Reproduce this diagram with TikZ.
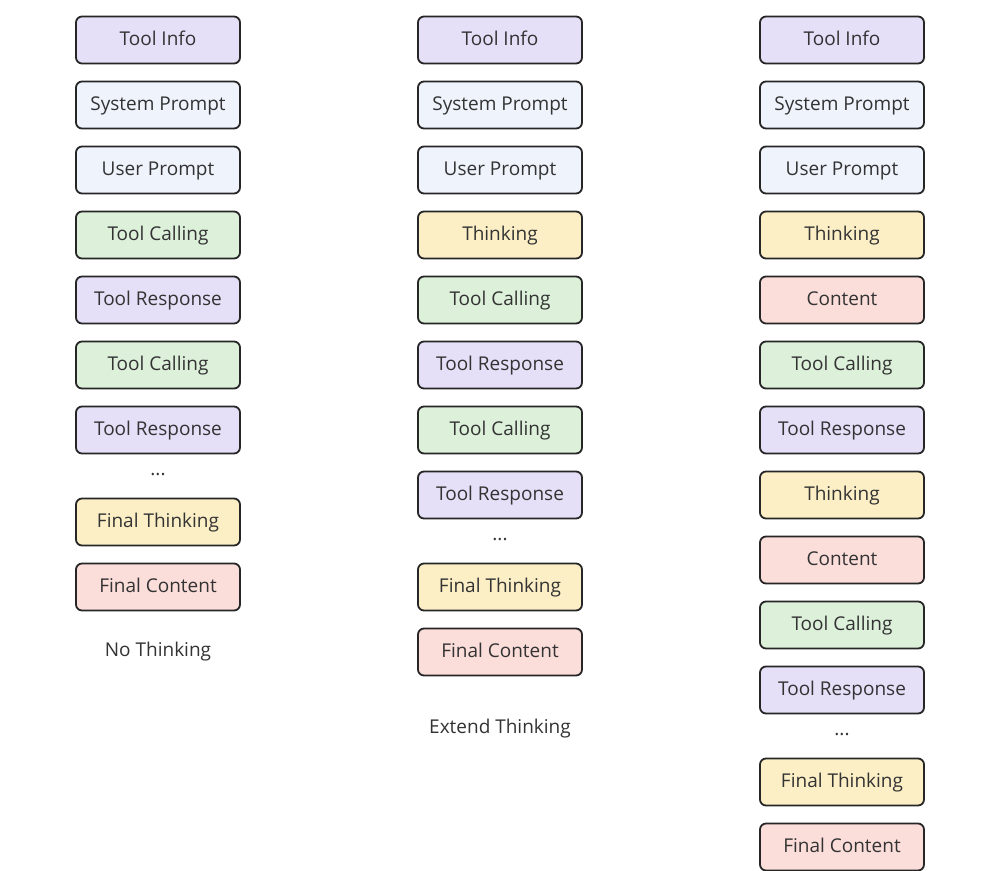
\documentclass[tikz,border=0pt]{standalone}
\usepackage{fontspec}
\setmainfont{Open Sans}
\definecolor{cP}{HTML}{E5DFF8}
\definecolor{cB}{HTML}{EEF3FC}
\definecolor{cG}{HTML}{DCF0DA}
\definecolor{cY}{HTML}{FCEFC6}
\definecolor{cR}{HTML}{FBDDDA}
\begin{document}
\begin{tikzpicture}[x=1pt,y=-1pt,
  box/.style={draw=black!85,line width=1.8pt,rounded corners=6pt,minimum width=164pt,minimum height=47pt,inner sep=0pt,text height=14pt,text depth=4pt,font=\fontsize{19}{22}\selectfont,text=black!80},
  P/.style={box,fill=cP},B/.style={box,fill=cB},G/.style={box,fill=cG},Y/.style={box,fill=cY},R/.style={box,fill=cR},
  lbl/.style={font=\fontsize{19}{22}\selectfont,text=black!80,text height=14pt,text depth=4pt}]
\useasboundingbox (0,0) rectangle (1008,870);
\fill[white] (0,0) rectangle (1008,870);
% column 1
\foreach \s/\t [count=\i from 0] in {P/Tool Info,B/System Prompt,B/User Prompt,G/Tool Calling,P/Tool Response,G/Tool Calling,P/Tool Response}
  \node[\s] (a\i) at (158,40+65*\i) {\t};
\node[lbl] (adots) at (158,470) {...};
\node[Y] (aft) at (158,522) {Final Thinking};
\node[R] (afc) at (158,587) {Final Content};
\node[lbl] (al) at (158,651) {No Thinking};
% column 2
\foreach \s/\t [count=\i from 0] in {P/Tool Info,B/System Prompt,B/User Prompt,Y/Thinking,G/Tool Calling,P/Tool Response,G/Tool Calling,P/Tool Response}
  \node[\s] (b\i) at (500,40+65*\i) {\t};
\node[lbl] (bdots) at (500,535) {...};
\node[Y] (bft) at (500,587) {Final Thinking};
\node[R] (bfc) at (500,652) {Final Content};
\node[lbl] (bl) at (500,728) {Extend Thinking};
% column 3
\foreach \s/\t [count=\i from 0] in {P/Tool Info,B/System Prompt,B/User Prompt,Y/Thinking,R/Content,G/Tool Calling,P/Tool Response,Y/Thinking,R/Content,G/Tool Calling,P/Tool Response}
  \node[\s] (c\i) at (842,40+65*\i) {\t};
\node[lbl] (cdots) at (842,730) {...};
\node[Y] (cft) at (842,782) {Final Thinking};
\node[R] (cfc) at (842,847) {Final Content};
\end{tikzpicture}
\end{document}
